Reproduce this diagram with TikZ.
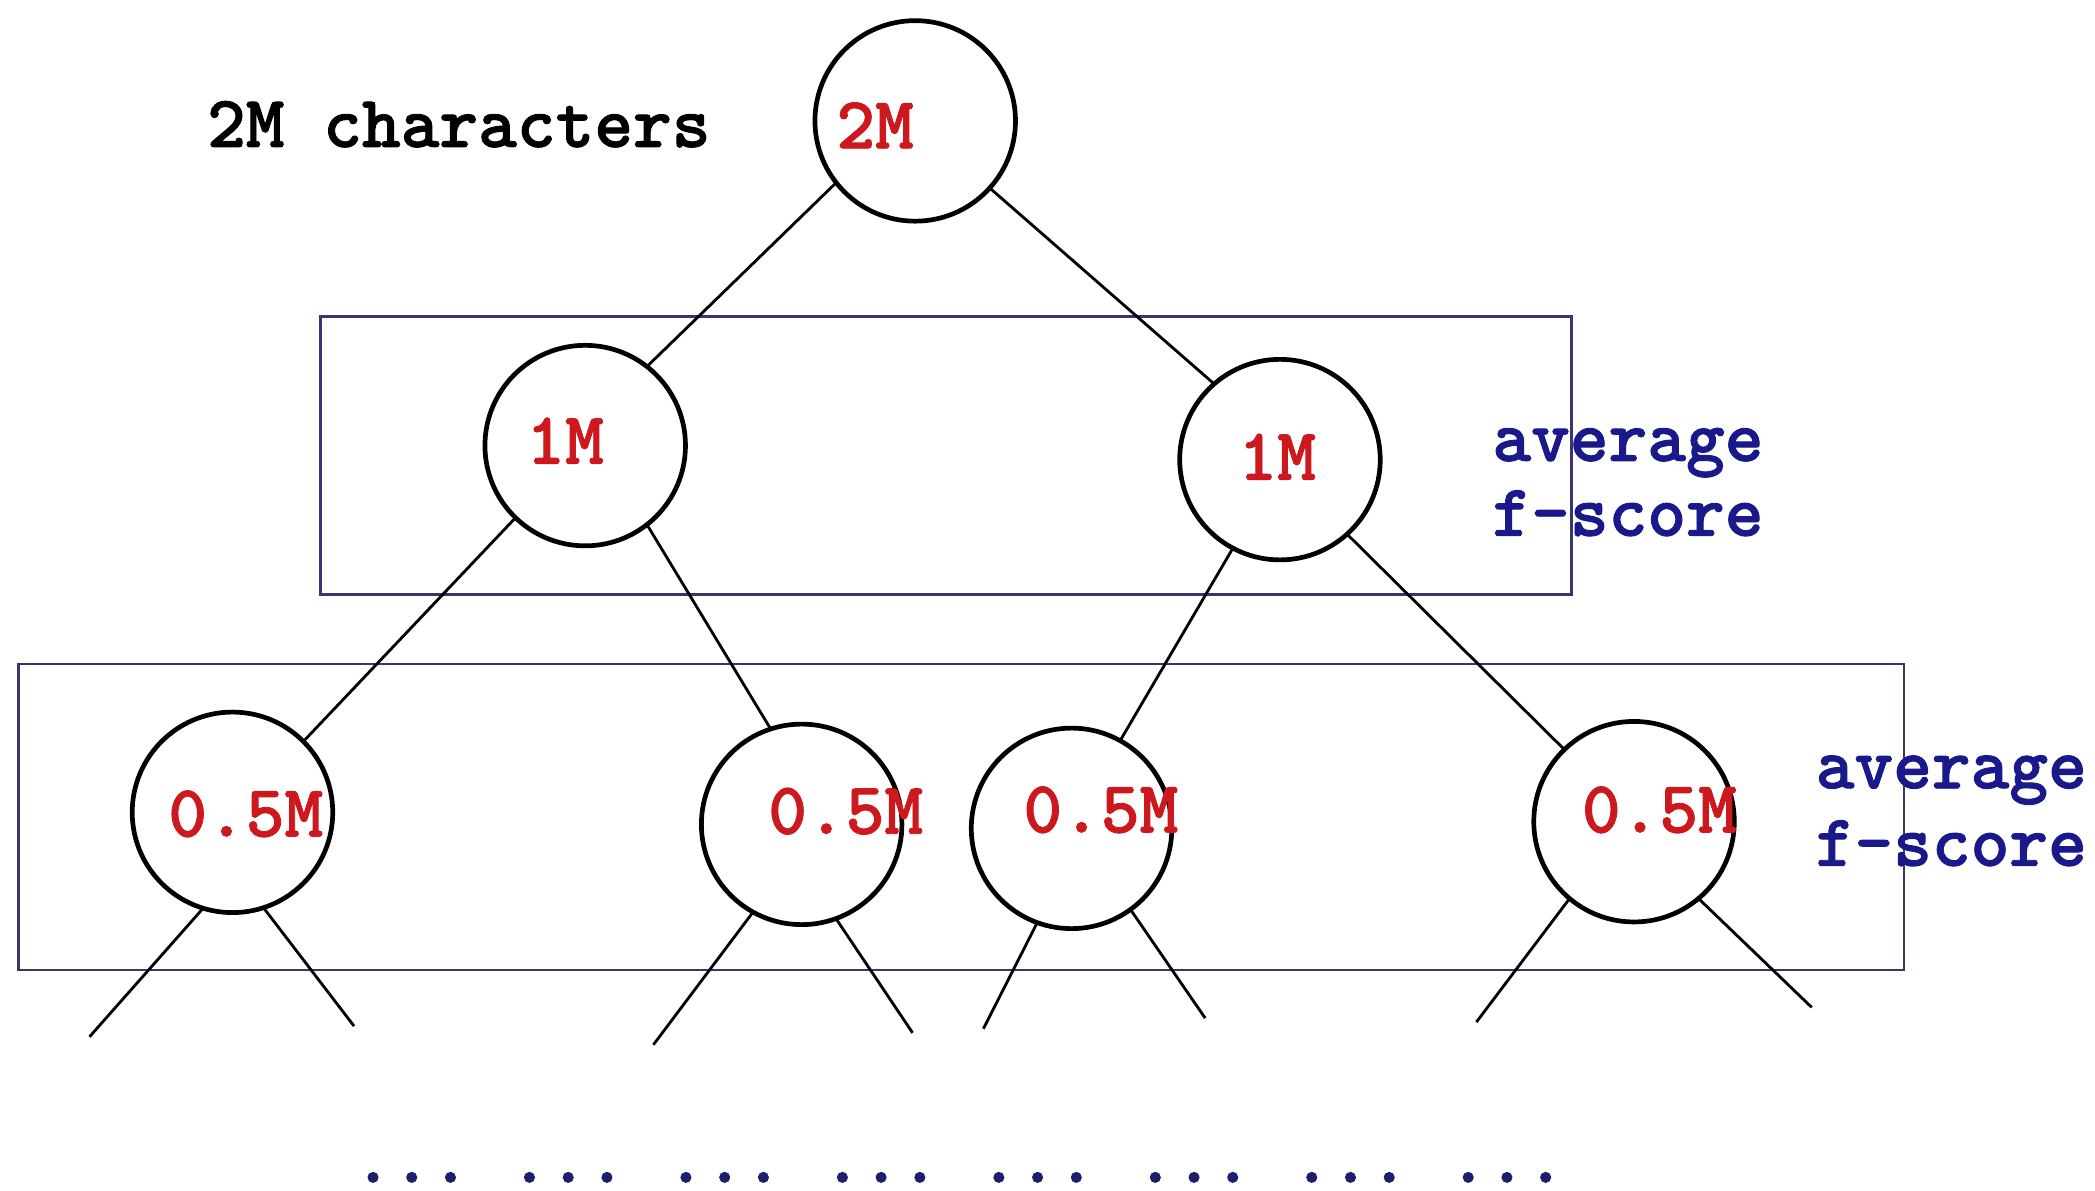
\documentclass[tikz,border=0pt]{standalone}
\usepackage{fontspec}
\newfontfamily\monob{lmmonolt10-bold.otf}[FakeBold=1.2]
\definecolor{tred}{RGB}{205,25,30}
\definecolor{navy}{RGB}{25,25,140}
\definecolor{boxc}{RGB}{55,55,110}
\definecolor{dotc}{RGB}{30,30,110}
\begin{document}
\begin{tikzpicture}[x=0.01cm,y=-0.01cm,
  every node/.style={font=\monob\fontsize{15.7}{18}\selectfont, inner sep=0pt, outer sep=0pt},
  bub/.style={draw=black, line width=1pt, circle, minimum size=1.5cm},
  lbl/.style={text=tred, anchor=base west},
  link/.style={line width=0.6pt, black},
  frame/.style={draw=boxc, line width=0.6pt},
  note/.style={text=navy, anchor=base west, align=left},
]
\useasboundingbox[fill=white] (0,0) rectangle (1568,891);

% frames
\draw[frame] (240,237) rectangle (1176,445);
\draw[frame] (14,497) rectangle (1425,726);

% circles
\node[bub] (r)  at (685,90.5) {};
\node[bub] (a)  at (438,333.5) {};
\node[bub] (b)  at (958,344) {};
\node[bub] (c1) at (174,608) {};
\node[bub] (c2) at (600,617) {};
\node[bub] (c3) at (802,620) {};
\node[bub] (c4) at (1223,615) {};

% labels
\node[anchor=base west] (cap) at (155,110) {2M characters};
\node[lbl] (tr)  at (626,111) {2M};
\node[lbl] (ta)  at (394,347) {1M};
\node[lbl] (tb)  at (927,359) {1M};
\node[lbl] (t1)  at (126,626) {0.5M};
\node[lbl] (t2)  at (575,624) {0.5M};
\node[lbl] (t3)  at (766,623) {0.5M};
\node[lbl] (t4)  at (1184,623) {0.5M};
\node[note] (n1) at (1117,345) {average};
\node[note] (n2) at (1117,401) {f-score};
\node[note] (n3) at (1359,590) {average};
\node[note] (n4) at (1359,648) {f-score};

% tree edges
\draw[link] (r.218) -- (a.52);
\draw[link] (r.318) -- (b.131.5);
\draw[link] (a.226.7) -- (c1.45.5);
\draw[link] (a.308) -- (c2.108.9);
\draw[link] (b.242) -- (c3.61.5);
\draw[link] (b.312.3) -- (c4.134.5);

% leaf stubs
\coordinate (e1) at (67,776);
\coordinate (e2) at (265,768);
\coordinate (e3) at (489,782);
\coordinate (e4) at (683,773);
\coordinate (e5) at (736,770);
\coordinate (e6) at (902,762);
\coordinate (e7) at (1105,765);
\coordinate (e8) at (1356,754);
\draw[link] (c1.253.7) -- (e1);
\draw[link] (c1.288.4) -- (e2);
\draw[link] (c2.241.8) -- (e3);
\draw[link] (c2.290.7) -- (e4);
\draw[link] (c3.250.9) -- (e5);
\draw[link] (c3.306) -- (e6);
\draw[link] (c4.230.8) -- (e7);
\draw[link] (c4.310) -- (e8);

% ellipses
\foreach \i in {0,...,7}{
  \node[text=dotc, anchor=base west] (d\i) at ({264.7+117.1*\i},885) {...};
}
\end{tikzpicture}
\end{document}
